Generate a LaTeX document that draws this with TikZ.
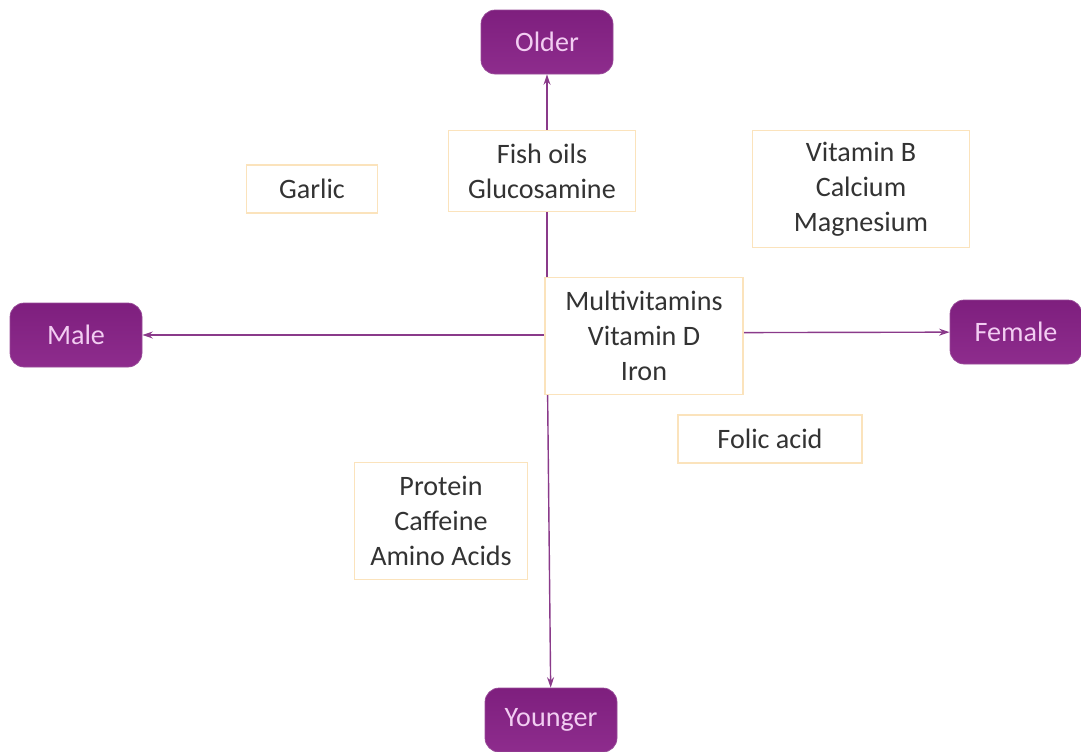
\documentclass[tikz,border=0pt]{standalone}
\usepackage{fontspec}
\setmainfont{Carlito}
\usepackage{tikz}
\usetikzlibrary{arrows.meta}
\definecolor{plum}{HTML}{7E1F7E}
\definecolor{plumlight}{HTML}{8E2C8D}
\definecolor{pinktext}{HTML}{F2CDF2}
\definecolor{tan}{HTML}{FBE3BC}
\definecolor{axis}{HTML}{8A3A8A}
\begin{document}
\begin{tikzpicture}[x=0.02cm,y=-0.02cm,font=\fontsize{16}{19.8}\selectfont]
    \tikzstyle{group}=[rectangle,rounded corners=8pt,top color=plum,bottom color=plumlight,draw=plum!80,text=pinktext,minimum width=132*0.02cm,minimum height=64*0.02cm,inner sep=0pt]
    \tikzstyle{item}=[rectangle,draw=tan,line width=1.1pt,fill=white,align=center,text=black!80,inner sep=0pt]
    \tikzstyle{axis}=[draw=axis,line width=0.8pt,-{Stealth[length=6pt,width=4pt]}]
    \useasboundingbox (0,0) rectangle (1081,751);
      \node[group] (older)   at (547,42)  {Older};
      \node[group] (male)    at (76,335)  {Male};
      \node[group] (female)  at (1016,332) {Female};
      \node[group] (younger) at (551,720) {Younger};
      \coordinate (o) at (547,335);
      \coordinate (o_r) at (547,333);
      \draw[axis] (o) -- (older);
      \draw[axis] (o) -- (male);
      \draw[axis] (o_r) -- (female);
      \draw[axis] (o) -- (younger);
      \node[item,minimum width=131*0.02cm,minimum height=48*0.02cm] (garlic) at (312,189) {Garlic};
      \node[item,minimum width=187*0.02cm,minimum height=81*0.02cm] (fish) at (542,171) {Fish oils\\Glucosamine};
      \node[item,minimum width=217*0.02cm,minimum height=117*0.02cm] (vitb) at (861,189) {Vitamin B\\Calcium\\Magnesium};
      \node[item,minimum width=198*0.02cm,minimum height=117*0.02cm] (multi) at (644,336) {Multivitamins\\Vitamin D\\Iron};
      \node[item,minimum width=184*0.02cm,minimum height=48*0.02cm] (folic) at (770,439) {Folic acid};
      \node[item,minimum width=173*0.02cm,minimum height=117*0.02cm] (protein) at (441,521) {Protein\\Caffeine\\Amino Acids};
    \end{tikzpicture}
\end{document}
